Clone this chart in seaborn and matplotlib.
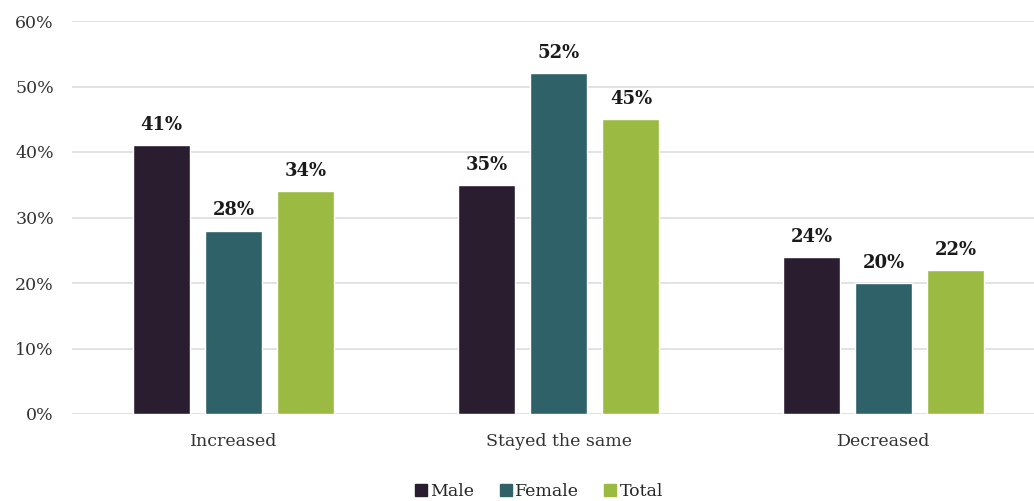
import matplotlib
matplotlib.use("Agg")
import matplotlib.pyplot as plt
import seaborn as sns
import pandas as pd
from matplotlib.lines import Line2D

categories = ["Increased", "Stayed the same", "Decreased"]
groups = ["Male", "Female", "Total"]
male = [41, 35, 24]
female = [28, 52, 20]
total = [34, 45, 22]
y_ticks = [0, 10, 20, 30, 40, 50, 60]

colors = {"Male": "#2a1d30", "Female": "#2e6268", "Total": "#9bba42"}

rows = []
for g, vals in zip(groups, [male, female, total]):
    for c, v in zip(categories, vals):
        rows.append({"category": c, "group": g, "value": v})
df = pd.DataFrame(rows)

sns.set_theme(style="white")
plt.rcParams["font.family"] = ["DejaVu Serif", "Liberation Serif"]

fig = plt.figure(figsize=(10.34, 5.01), dpi=100)
ax = fig.add_axes([72 / 1034, 1 - 414 / 501, 1 - 72 / 1034, (414 - 21) / 501])

sns.barplot(data=df, x="category", y="value", hue="group", order=categories,
            hue_order=groups, palette=colors, width=0.665, gap=0.21,
            saturation=1, legend=False, ax=ax, zorder=3)

ax.set_ylim(0, 60)
ax.set_xlim(-0.498, 2.462)
ax.set_yticks(y_ticks)
ax.set_yticklabels([f"{t}%" for t in y_ticks], fontsize=12.5, color="#333333")
ax.tick_params(axis="x", labelsize=12.5, labelcolor="#333333", pad=14, length=0)
ax.tick_params(axis="y", length=0, pad=13)
ax.set_xlabel("")
ax.set_ylabel("")
ax.yaxis.grid(True, color="#dddddd", linewidth=1.2, zorder=0)
ax.set_axisbelow(True)
for s in ax.spines.values():
    s.set_visible(False)

for cont in ax.containers:
    ax.bar_label(cont, labels=[f"{v:.0f}%" for v in cont.datavalues],
                 padding=8, fontsize=13, fontweight="bold", color="#1a1a1a")

handles = [Line2D([], [], marker="s", linestyle="none", markersize=8,
                  markerfacecolor=colors[g], markeredgecolor=colors[g]) for g in groups]
fig.legend(handles, groups, loc="lower center", bbox_to_anchor=(0.52, -0.03),
           ncol=3, frameon=False, fontsize=12.5, handletextpad=0.05,
           columnspacing=1.3, handlelength=1.0)

fig.savefig("out.png", dpi=100)
